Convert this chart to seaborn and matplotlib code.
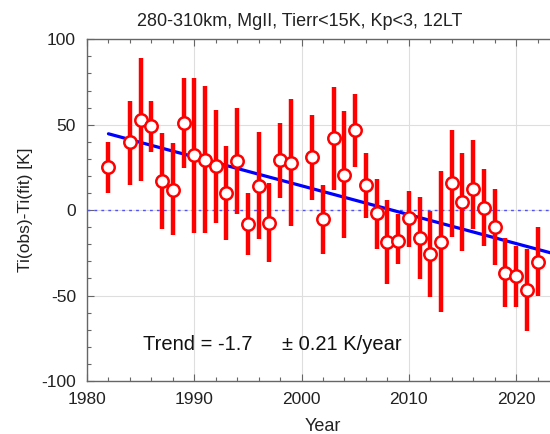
import numpy as np
import pandas as pd
import matplotlib
matplotlib.use("Agg")
import matplotlib.pyplot as plt
from matplotlib.ticker import MultipleLocator
import seaborn as sns

# values
years = [1982, 1984, 1985, 1986, 1987, 1988, 1989, 1990, 1991, 1992, 1993,
         1994, 1995, 1996, 1997, 1998, 1999, 2001, 2002, 2003, 2004, 2005,
         2006, 2007, 2008, 2009, 2010, 2011, 2012, 2013, 2014, 2015, 2016,
         2017, 2018, 2019, 2020, 2021, 2022]
ti_diff = [25, 40, 53, 49, 17, 12, 51, 32.5, 29.6, 25.7, 10.2,
           28.6, -8.3, 14.4, -7.4, 29.2, 27.6, 31.1, -5.4, 42, 20.4, 46.7,
           14.8, -1.9, -18.4, -18.2, -4.8, -16.5, -25.8, -18.7, 15.6, 4.9, 12.1,
           1, -9.7, -36.5, -38.5, -46.7, -30.1]
err_top = [39.7, 64, 89, 64, 45, 39.3, 77.6, 77.6, 72.8, 58.8, 37.7,
           59.7, 10.2, 45.5, 15.6, 51.3, 65, 55.8, 15, 71.8, 58.2, 67.9,
           33.5, 18.3, 6.2, -2.5, 11.5, 7.6, -0.6, 22.8, 47.1, 33.5, 40.8,
           24.2, 12.5, -16.5, -21, -22.9, -9.9]
err_bot = [10.2, 15, 17, 33.8, -10.9, -14.8, 24.7, -13.2, -13.6, -7.8, -17.5,
           -2.5, -26.4, -16.7, -30.3, 7.2, -9.3, 6.2, -25.8, 12, -16.1, 25.3,
           -4.4, -23, -43, -31.7, -21.6, -40.4, -51.1, -59.5, -15.8, -23.9, -10.9,
           -21, -32.3, -56.9, -56.6, -70.6, -50.5]

# fitted trend line end points
trend_years = [1982, 2024]
trend_vals = [44.7, -26.3]

df = pd.DataFrame({"year": years, "dti": ti_diff, "top": err_top, "bot": err_bot})
trend = pd.DataFrame({"year": trend_years, "dti": trend_vals})

sns.set_theme(style="white")
plt.rcParams["font.family"] = ["Liberation Sans", "DejaVu Sans"]
plt.rcParams["axes.unicode_minus"] = False

fig = plt.figure(figsize=(5.5, 4.34), dpi=100)
ax = fig.add_axes([87 / 550, 1 - 381 / 434, 472 / 550, (381 - 39.3) / 434])

ax.axhline(0, color="#5050ff", lw=1.0, ls=(0, (2, 3)), zorder=1)
sns.lineplot(data=trend, x="year", y="dti", color="#0000ff", lw=2.3, ax=ax, zorder=2)
ax.vlines(df["year"], df["bot"], df["top"], color="#ff0000", lw=3.2, zorder=3)
sns.scatterplot(data=df, x="year", y="dti", marker="o", s=80, facecolor="white",
                edgecolor="#ff0000", linewidth=1.8, ax=ax, zorder=4)

ax.set_xlim(1980, 2024)
ax.set_ylim(-100, 100)
ax.xaxis.set_major_locator(MultipleLocator(10))
ax.xaxis.set_minor_locator(MultipleLocator(2))
ax.yaxis.set_major_locator(MultipleLocator(50))
ax.yaxis.set_minor_locator(MultipleLocator(10))
ax.tick_params(which="both", direction="in", top=True, left=True, bottom=True,
               right=False, color="#666666", labelsize=12.5, labelcolor="#222222")
ax.tick_params(which="major", length=5, width=0.8)
ax.tick_params(which="minor", length=3, width=0.8)
ax.tick_params(axis="x", pad=8)
ax.tick_params(axis="y", pad=8)
ax.grid(True, which="major", color="#dedede", lw=0.8)
for side in ["left", "bottom", "top"]:
    ax.spines[side].set_color("#666666")
    ax.spines[side].set_linewidth(1.0)
ax.spines["right"].set_visible(False)

ax.set_xlabel("Year", fontsize=13, color="#222222", labelpad=8)
ax.set_ylabel("Ti(obs)-Ti(fit) [K]", fontsize=12.5, color="#222222", labelpad=6)

ax.text(1985.2, -78.4, "Trend = -1.7", fontsize=14.5, va="center", color="#111111")
ax.text(1998.15, -78.4, "\u00b1 0.21 K/year", fontsize=14.5, va="center", color="#111111")

fig.text(300 / 550, 1 - 21.7 / 434, "280-310km, MgII, Tierr<15K, Kp<3, 12LT",
         fontsize=13, ha="center", va="center", color="#222222")

fig.savefig("out.png", dpi=100)
